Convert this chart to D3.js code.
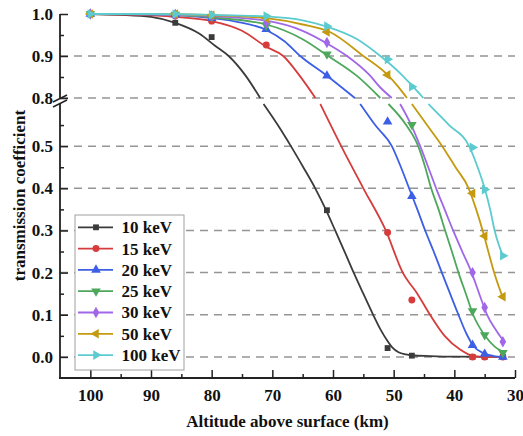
<!DOCTYPE html>
<html lang="en">
    <head>
        <meta charset="UTF-8">
        <title>Transmission coefficient</title>
        <script src="https://d3js.org/d3.v7.min.js"></script>
        <style>
            html, body {
                margin: 0;
                background: white;
            }
            svg text {
                font-family: "Liberation Serif", "Times New Roman", serif;
                font-weight: bold;
                fill: #111;
            }
        </style>
    </head>
    <body>
        <div id="chart"></div>
        <script>

            // sample altitudes (km) where the markers sit
            const altitudes = [100, 86, 80, 71, 61, 51, 47, 37, 35, 32];

            // marker values, null = falls inside the axis break
            const t10 = [1.0, 0.979, 0.945, null, 0.348, 0.021, 0.003, 0, 0, 0];
            const t15 = [1.0, 0.995, 0.983, 0.926, null, 0.295, 0.135, 0, 0, 0];
            const t20 = [1.0, 0.998, 0.99, 0.964, 0.853, 0.558, 0.381, 0.028, 0.007, 0];
            const t25 = [1.0, 0.999, 0.993, 0.973, 0.904, null, 0.551, 0.109, 0.052, 0.01];
            const t30 = [1.0, 0.999, 0.995, 0.98, 0.932, null, null, 0.2, 0.117, 0.036];
            const t50 = [1.0, 1.0, 0.997, 0.99, 0.957, 0.855, null, 0.388, 0.287, 0.143];
            const t100 = [1.0, 1.0, 0.998, 0.995, 0.971, 0.892, 0.827, 0.497, 0.397, 0.24];

            // fitted curves [km, value], upper panel (>= 0.8) and lower panel (<= 0.6)
            const fit10Upper = [[100,1.0],[95,0.998],[90,0.993],[86,0.979],[82,0.953],[79.5,0.925],[77.2,0.9],[74.5,0.855],[72,0.8]];
            const fit10Lower = [[71.45,0.6],[69.1,0.55],[66.94,0.5],[64.9,0.45],[62.93,0.4],[61.2,0.35],[59.64,0.3],[58.1,0.25],[56.59,0.2],[55.0,0.15],[53.38,0.1],[52.2,0.066],[51.12,0.04],[50.2,0.022],[49.2,0.011],[48,0.006],[47,0.004],[44,0.002],[40,0.0005],[32,0]];
            const fit15Upper = [[100,1.0],[90,0.997],[85,0.992],[80,0.983],[75,0.96],[71,0.922],[68.2,0.9],[65.6,0.855],[62.9,0.8]];
            const fit15Lower = [[62.1,0.6],[58.65,0.5],[55.0,0.4],[51.3,0.3],[48.5,0.2],[46.1,0.15],[44.0,0.1],[41.6,0.05],[39.0,0.017],[36.9,0.002],[35,0],[32,0]];
            const fit20Upper = [[100,1.0],[90,0.999],[82,0.993],[76,0.982],[71,0.962],[68,0.935],[65.4,0.9],[61,0.853],[56.4,0.8]];
            const fit20Lower = [[55.52,0.6],[53.05,0.55],[50.3,0.5],[48.8,0.45],[47.45,0.4],[46.1,0.35],[44.81,0.3],[43.4,0.25],[42.06,0.2],[40.7,0.15],[39.32,0.1],[38.0,0.055],[36.85,0.026],[35.2,0.009],[33.5,0.002],[32.1,0]];
            const fit25Upper = [[100,1.0],[90,0.999],[80,0.992],[71,0.975],[65,0.94],[60.8,0.9],[56,0.852],[52.2,0.8]];
            const fit25Lower = [[50.86,0.6],[47.94,0.55],[45.96,0.5],[44.8,0.45],[43.82,0.4],[42.6,0.35],[41.52,0.3],[40.4,0.25],[39.32,0.2],[38.1,0.15],[36.9,0.1],[34.93,0.05],[33.4,0.025],[32.0,0.012]];
            const fit30Upper = [[100,1.0],[90,0.999],[80,0.995],[71,0.984],[65,0.96],[61,0.93],[57.7,0.9],[54,0.855],[52.2,0.825],[50.3,0.8]];
            const fit30Lower = [[48.93,0.6],[47.1,0.55],[45.63,0.5],[44.3,0.45],[43.0,0.4],[41.6,0.35],[40.2,0.3],[38.7,0.25],[37.15,0.2],[35.9,0.15],[34.6,0.1],[33.2,0.065],[32.0,0.04]];
            const fit50Upper = [[100,1.0],[90,1.0],[80,0.997],[71,0.99],[65,0.975],[60.5,0.957],[55,0.9],[51,0.855],[49.2,0.826],[47.8,0.8]];
            const fit50Lower = [[47.0,0.6],[44.5,0.55],[42.0,0.5],[39.8,0.45],[37.64,0.4],[36.4,0.35],[35.34,0.3],[34.4,0.25],[33.44,0.2],[32.0,0.14]];
            const fit100Upper = [[100,1.0],[90,1.0],[80,0.998],[71,0.994],[65,0.985],[61,0.97],[56,0.94],[52.2,0.9],[49,0.86],[47,0.83],[45.1,0.8]];
            const fit100Lower = [[44.27,0.6],[40.86,0.55],[37.56,0.5],[36.16,0.45],[35.0,0.4],[34.1,0.35],[33.36,0.3],[32.0,0.24]];

            const seriesNames = ["10 keV", "15 keV", "20 keV", "25 keV", "30 keV", "50 keV", "100 keV"];
            const seriesColors = ["#3b3b3b", "#d63c3c", "#3d5fe5", "#4ea85c", "#a068e8", "#c49a10", "#5ccbd0"];

            const xTicks = [100, 90, 80, 70, 60, 50, 40, 30];
            const xMinor = [95, 85, 75, 65, 55, 45, 35];
            const yLowTicks = [0, 0.1, 0.2, 0.3, 0.4, 0.5];
            const yLowMinor = [0.05, 0.15, 0.25, 0.35, 0.45, 0.55];
            const yTopTicks = [0.8, 0.9, 1.0];
            const yTopMinor = [0.85, 0.95];

            const width = 523;
            const height = 436;

            const markerSets = [t10, t15, t20, t25, t30, t50, t100];
            const upperFits = [fit10Upper, fit15Upper, fit20Upper, fit25Upper, fit30Upper, fit50Upper, fit100Upper];
            const lowerFits = [fit10Lower, fit15Lower, fit20Lower, fit25Lower, fit30Lower, fit50Lower, fit100Lower];

            // symbol type + rotation per series
            const symbols = [
                {type: d3.symbolSquare, size: 34, rot: 0},
                {type: d3.symbolCircle, size: 38, rot: 0},
                {type: d3.symbolTriangle, size: 40, rot: 0},
                {type: d3.symbolTriangle, size: 40, rot: 180},
                {type: d3.symbolDiamond, size: 38, rot: 0},
                {type: d3.symbolTriangle, size: 40, rot: -90},
                {type: d3.symbolTriangle, size: 40, rot: 90}
            ];

            const x = d3.scaleLinear().domain([105, 30]).range([60, 515]);
            const yTop = d3.scaleLinear().domain([0.8, 1.0]).range([98, 14]);
            const yLow = d3.scaleLinear().domain([-0.05, 0.6]).range([378, 104]);

            const svg = d3.select("#chart")
                .append("svg")
                .attr("width", width)
                .attr("height", height);

            // dashed grid
            const grid = svg.append("g");
            const gridLine = (yy) => grid.append("line")
                .attr("x1", 60).attr("x2", 515)
                .attr("y1", yy).attr("y2", yy)
                .attr("stroke", "#959595")
                .attr("stroke-width", 1.5)
                .attr("stroke-dasharray", "8,6");
            yLowTicks.forEach(v => gridLine(yLow(v)));
            [0.8, 0.9].forEach(v => gridLine(yTop(v)));

            // curves
            const line = (scale) => d3.line()
                .x(d => x(d[0]))
                .y(d => scale(d[1]))
                .curve(d3.curveMonotoneX);

            const curves = svg.append("g").attr("fill", "none").attr("stroke-width", 1.8);
            seriesNames.forEach((name, i) => {
                curves.append("path").attr("d", line(yTop)(upperFits[i])).attr("stroke", seriesColors[i]);
                curves.append("path").attr("d", line(yLow)(lowerFits[i])).attr("stroke", seriesColors[i]);
            });

            // markers
            const markerPath = (i) => d3.symbol().type(symbols[i].type).size(symbols[i].size)();
            const yOf = (v) => v >= 0.8 ? yTop(v) : yLow(v);

            seriesNames.forEach((name, i) => {
                const pts = altitudes.map((a, j) => [a, markerSets[i][j]]).filter(d => d[1] !== null);
                svg.append("g").selectAll("path")
                    .data(pts)
                    .enter().append("path")
                    .attr("d", markerPath(i))
                    .attr("transform", d => `translate(${x(d[0])},${yOf(d[1])}) rotate(${symbols[i].rot})`)
                    .attr("fill", seriesColors[i]);
            });

            // axes
            const axisColor = "#222";
            const styleAxis = (g) => {
                g.select(".domain").remove();
                g.selectAll(".tick line").attr("stroke", axisColor).attr("stroke-width", 1.5);
                g.selectAll("text").attr("font-size", 17).attr("fill", "#111");
            };

            svg.append("g").attr("transform", "translate(60,0)")
                .call(d3.axisLeft(yLow).tickValues(yLowTicks).tickFormat(d3.format(".1f")).tickSizeInner(-8).tickSizeOuter(0).tickPadding(7))
                .call(styleAxis);
            svg.append("g").attr("transform", "translate(60,0)")
                .call(d3.axisLeft(yLow).tickValues(yLowMinor).tickFormat("").tickSizeInner(-4).tickSizeOuter(0))
                .call(styleAxis);
            svg.append("g").attr("transform", "translate(60,0)")
                .call(d3.axisLeft(yTop).tickValues(yTopTicks).tickFormat(d3.format(".1f")).tickSizeInner(-8).tickSizeOuter(0).tickPadding(7))
                .call(styleAxis);
            svg.append("g").attr("transform", "translate(60,0)")
                .call(d3.axisLeft(yTop).tickValues(yTopMinor).tickFormat("").tickSizeInner(-4).tickSizeOuter(0))
                .call(styleAxis);

            svg.append("g").attr("transform", "translate(0,378)")
                .call(d3.axisBottom(x).tickValues(xTicks).tickSizeInner(-8).tickSizeOuter(0).tickPadding(11))
                .call(styleAxis);
            svg.append("g").attr("transform", "translate(0,378)")
                .call(d3.axisBottom(x).tickValues(xMinor).tickFormat("").tickSizeInner(-4).tickSizeOuter(0))
                .call(styleAxis);

            // axis lines with the break
            const axes = svg.append("g").attr("stroke", axisColor).attr("stroke-width", 1.8).attr("fill", "none");
            axes.append("line").attr("x1", 60).attr("x2", 60).attr("y1", yTop(1.0)).attr("y2", yTop(0.8));
            axes.append("line").attr("x1", 60).attr("x2", 60).attr("y1", yLow(0.6)).attr("y2", yLow(-0.05));
            axes.append("line").attr("x1", 59).attr("x2", 515).attr("y1", 378).attr("y2", 378);
            axes.append("line").attr("x1", 53).attr("y1", 102).attr("x2", 67).attr("y2", 95).attr("stroke-width", 1.4);
            axes.append("line").attr("x1", 53).attr("y1", 107).attr("x2", 67).attr("y2", 100).attr("stroke-width", 1.4);

            // titles
            svg.append("text")
                .attr("x", 287.5)
                .attr("y", 427)
                .attr("text-anchor", "middle")
                .attr("font-size", 17)
                .text("Altitude above surface (km)");

            svg.append("text")
                .attr("transform", "translate(25,195.5) rotate(-90)")
                .attr("text-anchor", "middle")
                .attr("font-size", 17)
                .text("transmission coefficient");

            // legend
            const legend = svg.append("g");
            legend.append("rect")
                .attr("x", 75).attr("y", 215)
                .attr("width", 109).attr("height", 155)
                .attr("fill", "white")
                .attr("stroke", "#a0a0a0")
                .attr("stroke-width", 1);

            seriesNames.forEach((name, i) => {
                const ly = 227.3 + i * 21.3;
                legend.append("line")
                    .attr("x1", 78).attr("x2", 113)
                    .attr("y1", ly).attr("y2", ly)
                    .attr("stroke", seriesColors[i])
                    .attr("stroke-width", 1.8);
                legend.append("path")
                    .attr("d", markerPath(i))
                    .attr("transform", `translate(96,${ly}) rotate(${symbols[i].rot})`)
                    .attr("fill", seriesColors[i]);
                legend.append("text")
                    .attr("x", 121.5)
                    .attr("y", ly)
                    .attr("dy", "0.35em")
                    .attr("font-size", 17)
                    .text(name);
            });

        </script>
    </body>
</html>
